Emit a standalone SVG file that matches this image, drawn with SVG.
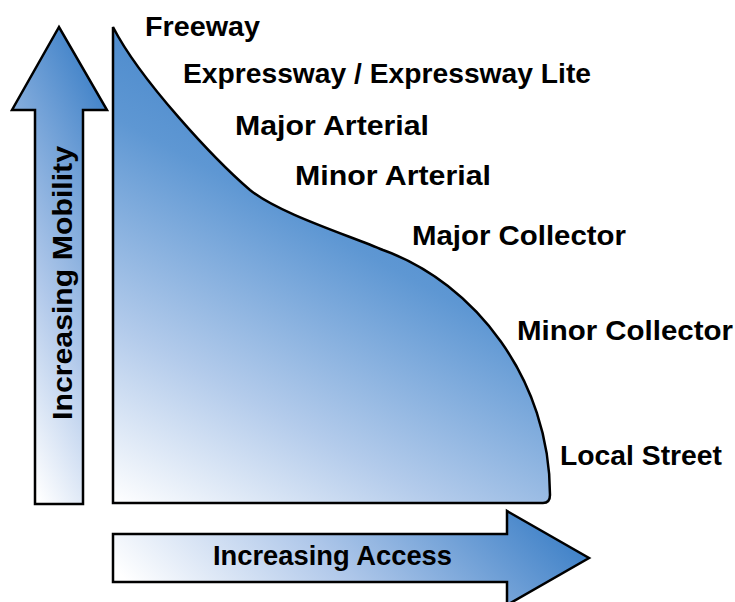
<svg xmlns="http://www.w3.org/2000/svg" width="735" height="602" viewBox="0 0 735 602">
<style>
.lbl{font-family:"Liberation Sans",Arial,sans-serif;font-weight:bold;font-size:28px;fill:#000}
.shape{stroke:#000;stroke-width:2.5;stroke-linejoin:miter}
</style>
<defs>
<linearGradient id="gArea" x1="0" y1="1" x2="0.5" y2="0">
<stop offset="0" stop-color="#ffffff"/>
<stop offset="0.3" stop-color="#b3cbeb"/>
<stop offset="0.65" stop-color="#5e97d3"/>
<stop offset="1" stop-color="#3b7ec6"/>
</linearGradient>
<linearGradient id="gV" x1="0.3" y1="1" x2="0.7" y2="0">
<stop offset="0" stop-color="#ffffff"/>
<stop offset="0.4" stop-color="#b0c8ea"/>
<stop offset="1" stop-color="#3d80c7"/>
</linearGradient>
<linearGradient id="gH" x1="0" y1="0.6" x2="1" y2="0.4">
<stop offset="0" stop-color="#ffffff"/>
<stop offset="0.45" stop-color="#b0c8ea"/>
<stop offset="1" stop-color="#3d80c7"/>
</linearGradient>
</defs>
<g id="area">
<path class="shape" fill="url(#gArea)" d="M113,27 C140,80 215,160 250,190 C280,214 348,235 383,250 C475,283 550,380 550,495 Q550,503 543,503 L113,503 Z"/>
</g>
<g id="mobility-arrow">
<polygon class="shape" fill="url(#gV)" points="35,504 35,110 12,110 59,27 107,110 83,110 83,504"/>
<text class="lbl" transform="translate(72,420) rotate(-90)" textLength="274" lengthAdjust="spacingAndGlyphs">Increasing Mobility</text>
</g>
<g id="access-arrow">
<polygon class="shape" fill="url(#gH)" points="113,534 507,534 507,511 589,558 507,605 507,582 113,582"/>
<text class="lbl" x="213" y="565" textLength="239" lengthAdjust="spacingAndGlyphs">Increasing Access</text>
</g>
<g id="labels">
<text class="lbl" x="145" y="36" textLength="115" lengthAdjust="spacingAndGlyphs">Freeway</text>
<text class="lbl" x="183" y="83" textLength="408" lengthAdjust="spacingAndGlyphs">Expressway / Expressway Lite</text>
<text class="lbl" x="235" y="135" textLength="194" lengthAdjust="spacingAndGlyphs">Major Arterial</text>
<text class="lbl" x="295" y="185" textLength="196" lengthAdjust="spacingAndGlyphs">Minor Arterial</text>
<text class="lbl" x="412" y="245" textLength="214" lengthAdjust="spacingAndGlyphs">Major Collector</text>
<text class="lbl" x="517" y="340" textLength="216" lengthAdjust="spacingAndGlyphs">Minor Collector</text>
<text class="lbl" x="560" y="465" textLength="162" lengthAdjust="spacingAndGlyphs">Local Street</text>
</g>
</svg>
